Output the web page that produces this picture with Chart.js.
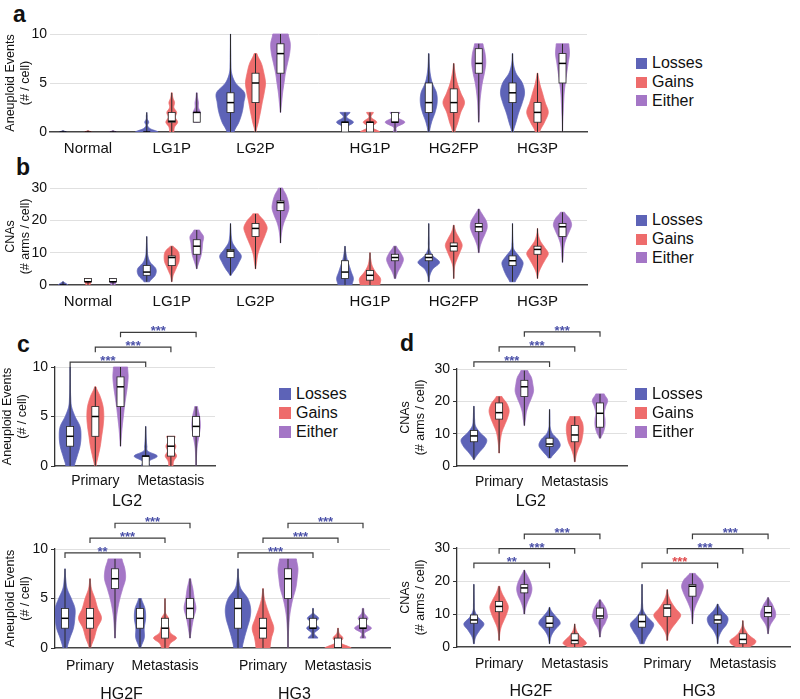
<!DOCTYPE html>
<html>
<head>
<meta charset="utf-8">
<script src="https://cdn.jsdelivr.net/npm/chart.js@4.4.1/dist/chart.umd.min.js"></script>
<style>
  body { margin: 0; background: #fff; width: 800px; height: 699px; position: relative; overflow: hidden;
         font-family: "Liberation Sans", Arial, Helvetica, sans-serif; }
  canvas { position: absolute; }
  .tag { position: absolute; font-weight: bold; font-size: 23px; line-height: 23px; color: #111; }
  .legend { position: absolute; font-size: 16px; color: #111; }
  .legend div { display: flex; align-items: center; height: 18.7px; white-space: nowrap; }
  .legend span { display: inline-block; margin-right: 5px; }
</style>
</head>
<body>
<div class="tag" style="left:13px;top:3px">a</div>
<div class="tag" style="left:16px;top:156px">b</div>
<div class="tag" style="left:17px;top:333px">c</div>
<div class="tag" style="left:400px;top:332px">d</div>

<canvas id="ca" width="600" height="160" style="left:0;top:0"></canvas>
<canvas id="cb" width="600" height="170" style="left:0;top:140px"></canvas>
<canvas id="cc1" width="240" height="200" style="left:0;top:310px"></canvas>
<canvas id="cc2" width="400" height="199" style="left:0;top:500px"></canvas>
<canvas id="cd1" width="244" height="200" style="left:396px;top:310px"></canvas>
<canvas id="cd2" width="404" height="199" style="left:396px;top:500px"></canvas>

<script>
// ---- data ----
const seriesNames = ['Losses', 'Gains', 'Either'];
const screenGroups = ['Normal', 'LG1P', 'LG2P', 'HG1P', 'HG2FP', 'HG3P'];
const stageGroups = ['Primary', 'Metastasis'];
const lgSupers = ['LG2'];
const hgSupers = ['HG2F', 'HG3'];

// box stats per violin: [min, q1, median, q3, max]
// shape: violin half-widths at evenly spaced values from min to max (1 = widest)

// a: aneuploid events per cell
const aLosses = [[0, 0, 0, 0, 0.15], [0, 0, 0, 0, 2], [0, 2, 3, 4, 10], [0, 0, 1, 1, 2], [0, 2, 3, 5, 8], [0, 3, 4, 5, 8]];
const aLossesShape = [[0.25, 0], [0.82, 0.25, 0.06, 0.14, 0.04, 0.03, 0], [0.25, 0.6, 0.83, 0.95, 1.0, 0.36, 0.08, 0.03, 0.02, 0.01, 0.01],
  [0.25, 0.12, 0.6, 0.12, 0.36], [0.05, 0.2, 0.45, 0.6, 0.55, 0.25, 0.1, 0.04, 0.02], [0.05, 0.25, 0.45, 0.7, 0.86, 0.7, 0.25, 0.06, 0.02]];
const aGains = [[0, 0, 0, 0, 0.15], [0, 1, 1.1, 2, 4], [0, 3, 5, 6, 8], [0, 0, 1, 1, 2], [0, 2, 3, 4.4, 7], [0, 1, 2, 3, 6]];
const aGainsShape = [[0.25, 0], [0.15, 0.2, 0.42, 0.25, 0.35, 0.15, 0.2, 0.08, 0.03], [0.03, 0.2, 0.35, 0.48, 0.62, 0.71, 0.6, 0.42, 0.1],
  [0.7, 0.12, 0.48, 0.08, 0.24], [0.08, 0.3, 0.5, 0.77, 0.5, 0.25, 0.1, 0.02], [0.15, 0.5, 0.77, 0.55, 0.35, 0.15, 0.03]];
const aEither = [[0, 0, 0, 0, 0.15], [1, 1, 2, 2, 4], [2, 6, 8, 9, 10], [0, 1, 1, 2, 2], [1, 6, 7, 8.5, 9], [0, 5, 7, 8, 9]];
const aEitherShape = [[0.25, 0], [0.2, 0.15, 0.25, 0.12, 0.12, 0.06, 0.03], [0.02, 0.08, 0.15, 0.25, 0.35, 0.5, 0.65, 0.7, 0.55],
  [0.1, 0.12, 0.7, 0.15, 0.36], [0.02, 0.05, 0.08, 0.15, 0.25, 0.4, 0.5, 0.45, 0.3], [0.01, 0.02, 0.05, 0.08, 0.12, 0.2, 0.3, 0.4, 0.5, 0.45]];

// b: CNAs (# arms / cell)
const bLosses = [[0, 0, 0, 0, 1], [1, 3, 4, 6, 15], [3, 8.5, 10.5, 11, 19], [0, 2, 4, 7.5, 12], [1, 7.5, 8.5, 9.5, 19], [1, 6, 7.5, 9, 19]];
const bLossesShape = [[0.35, 0.05], [0.2, 0.6, 0.65, 0.25, 0.08, 0.04, 0.02, 0.01], [0.05, 0.35, 0.6, 0.77, 0.45, 0.15, 0.06, 0.03, 0.01],
  [0.5, 0.6, 0.45, 0.3, 0.15, 0.06, 0.01], [0.03, 0.08, 0.3, 0.77, 0.3, 0.05, 0.03, 0.02, 0.01, 0.01], [0.2, 0.45, 0.65, 0.75, 0.45, 0.1, 0.04, 0.02, 0.01, 0.01]];
const bGains = [[0, 1, 1, 2, 2], [1, 6, 8.5, 9, 12], [5, 15, 17.5, 19, 22], [0, 1.5, 3, 4.5, 10], [2, 10.5, 12, 13, 18.5], [2, 9.5, 11, 12, 17.5]];
const bGainsShape = [[0.15, 0.2, 0.15], [0.02, 0.05, 0.1, 0.2, 0.3, 0.4, 0.5, 0.54, 0.54, 0.5, 0.35, 0.1], [0.02, 0.08, 0.15, 0.3, 0.5, 0.7, 0.83, 0.6, 0.2],
  [0.7, 0.75, 0.4, 0.15, 0.05, 0.01], [0.02, 0.03, 0.08, 0.25, 0.45, 0.6, 0.4, 0.15, 0.03], [0.02, 0.1, 0.3, 0.55, 0.77, 0.5, 0.2, 0.06, 0.01]];
const bEither = [[0, 1, 1, 2, 2], [5, 9.5, 12, 14, 17], [13, 23, 25.5, 26, 30], [2, 7.5, 8.5, 9.5, 12], [10, 16.5, 18, 19, 23.5], [7, 15, 18, 19, 22.5]];
const bEitherShape = [[0.15, 0.2, 0.15], [0.02, 0.15, 0.3, 0.38, 0.42, 0.48, 0.2], [0.02, 0.05, 0.12, 0.25, 0.45, 0.6, 0.55, 0.4, 0.15],
  [0.05, 0.2, 0.45, 0.6, 0.4, 0.1], [0.03, 0.1, 0.25, 0.45, 0.6, 0.55, 0.3, 0.05], [0.02, 0.05, 0.08, 0.15, 0.3, 0.5, 0.65, 0.5, 0.15]];

// c (top): LG2 aneuploid events, primary vs metastasis
const cTopLosses = [[0, 2, 3, 4, 10], [0, 0, 1, 1, 4]];
const cTopLossesShape = [[0.3, 0.5, 0.7, 0.77, 0.7, 0.35, 0.1, 0.04, 0.02, 0.01, 0.01], [0.3, 0.25, 0.82, 0.15, 0.08, 0.05, 0.03, 0.02, 0.01]];
const cTopGains = [[0, 3, 5, 6, 8], [0, 1, 2, 3, 3]];
const cTopGainsShape = [[0.05, 0.2, 0.35, 0.45, 0.55, 0.6, 0.55, 0.35, 0.05], [0.15, 0.2, 0.4, 0.25, 0.35, 0.2, 0.3]];
const cTopEither = [[2, 6, 8, 9, 10], [0, 3, 4, 5, 6]];
const cTopEitherShape = [[0.02, 0.06, 0.12, 0.2, 0.28, 0.38, 0.48, 0.54, 0.5], [0.01, 0.03, 0.08, 0.2, 0.3, 0.25, 0.1]];
const cTopSig = ['***', '***', '***'];

// c (bottom): HG2F and HG3 aneuploid events
const cBotLosses = [[0, 2, 3, 4, 8], [0, 2, 3, 4, 5], [0, 2, 4, 5, 8], [1, 2, 2, 3, 4]];
const cBotLossesShape = [[0.15, 0.35, 0.6, 0.7, 0.71, 0.45, 0.15, 0.05, 0.01], [0.05, 0.3, 0.3, 0.4, 0.35, 0.1],
  [0.3, 0.45, 0.65, 0.85, 0.9, 0.7, 0.2, 0.05, 0.01], [0.35, 0.1, 0.45, 0.1, 0.4, 0.05, 0.03]];
const cBotGains = [[0, 2, 3, 4, 7], [0, 1, 2, 3, 5], [0, 1, 2, 3, 6], [0, 0, 0, 1, 2]];
const cBotGainsShape = [[0.05, 0.3, 0.5, 0.82, 0.55, 0.35, 0.1, 0.02], [0.25, 0.4, 0.82, 0.4, 0.3, 0.2, 0.25, 0.05, 0.03, 0.02, 0.01],
  [0.5, 0.6, 0.77, 0.55, 0.3, 0.1, 0.02], [0.95, 0.2, 0.35, 0.08, 0.03]];
const cBotEither = [[1, 6, 7, 8, 9], [1, 3, 4, 5, 7], [0, 5, 7, 8, 9], [1, 2, 2, 3, 4]];
const cBotEitherShape = [[0.02, 0.05, 0.1, 0.2, 0.35, 0.55, 0.75, 0.7, 0.5], [0.02, 0.12, 0.25, 0.42, 0.3, 0.2, 0.05],
  [0.01, 0.02, 0.05, 0.1, 0.2, 0.35, 0.55, 0.65, 0.71, 0.6], [0.2, 0.1, 0.6, 0.15, 0.35, 0.1, 0.05]];
const cBotSig = ['**', '***', '***', '***', '***', '***'];

// d (top): LG2 CNAs
const dTopLosses = [[2, 7.5, 9.3, 11, 18.5], [2.5, 6, 6.8, 8.6, 17.5]];
const dTopLossesShape = [[0.03, 0.35, 0.75, 0.9, 0.45, 0.12, 0.05, 0.03, 0.01], [0.1, 0.45, 0.75, 0.6, 0.2, 0.05, 0.03, 0.02, 0.01]];
const dTopGains = [[4, 14.5, 16.5, 19.5, 21.5], [1.3, 7.5, 9.6, 12.5, 15.3]];
const dTopGainsShape = [[0.02, 0.04, 0.1, 0.2, 0.4, 0.6, 0.71, 0.55, 0.2], [0.03, 0.1, 0.25, 0.45, 0.55, 0.6, 0.55, 0.35]];
const dTopEither = [[12.5, 21.5, 24.5, 26.5, 29.5], [8.6, 12, 16.3, 19.5, 22.3]];
const dTopEitherShape = [[0.02, 0.08, 0.15, 0.3, 0.5, 0.65, 0.6, 0.5, 0.25], [0.05, 0.25, 0.35, 0.35, 0.3, 0.4, 0.54, 0.3]];
const dTopSig = ['***', '***', '***'];

// d (bottom): HG2F and HG3 CNAs
const dBotLosses = [[1, 7.2, 8.2, 9.7, 19], [1, 6, 7.2, 9.2, 12], [1, 6, 7.7, 9.7, 19], [1, 7.2, 8.2, 9.7, 13]];
const dBotLossesShape = [[0.03, 0.12, 0.4, 0.71, 0.3, 0.06, 0.03, 0.02, 0.01, 0.01], [0.02, 0.05, 0.1, 0.2, 0.35, 0.55, 0.75, 0.7, 0.5, 0.3, 0.12, 0.03],
  [0.15, 0.35, 0.65, 0.82, 0.4, 0.1, 0.04, 0.02, 0.01, 0.01], [0.02, 0.08, 0.3, 0.65, 0.71, 0.3, 0.03]];
const dBotGains = [[2, 10.7, 12.3, 13.8, 18.4], [0, 1, 2, 4, 7], [2, 9.2, 11.8, 12.8, 17.4], [0, 1, 2.3, 4, 8]];
const dBotGainsShape = [[0.02, 0.05, 0.15, 0.35, 0.55, 0.65, 0.45, 0.2, 0.05], [0.5, 0.82, 0.7, 0.45, 0.25, 0.12, 0.05, 0.01],
  [0.03, 0.1, 0.35, 0.7, 0.95, 0.6, 0.3, 0.1, 0.02], [0.5, 0.85, 0.9, 0.6, 0.35, 0.2, 0.08, 0.03, 0.01]];
const dBotEither = [[10, 16.4, 17.9, 18.9, 23.3], [3, 8.7, 9.4, 11.8, 14.3], [7, 15.4, 18.4, 18.9, 22.3], [4, 9.2, 10.4, 12.3, 15]];
const dBotEitherShape = [[0.03, 0.1, 0.25, 0.45, 0.54, 0.45, 0.25, 0.03], [0.02, 0.05, 0.1, 0.2, 0.35, 0.45, 0.54, 0.5, 0.45, 0.35, 0.2, 0.05],
  [0.02, 0.05, 0.1, 0.25, 0.45, 0.65, 0.77, 0.6, 0.2], [0.02, 0.05, 0.1, 0.2, 0.35, 0.5, 0.54, 0.5, 0.4, 0.3, 0.15, 0.03]];
const dBotSig = ['**', '***', '***', '***', '***', '***'];

// ---- drawing ----
const seriesColors = ['#5d63b7', '#ee6c6c', '#a476c6'];
const fontFamily = '"Liberation Sans", Arial, Helvetica, sans-serif';
Chart.defaults.font.family = fontFamily;
Chart.defaults.color = '#111';

const violinSets = {};

function catmull(w, i, t) {
  const p0 = w[Math.max(i - 1, 0)], p1 = w[i], p2 = w[i + 1], p3 = w[Math.min(i + 2, w.length - 1)];
  const v = 0.5 * (2 * p1 + (-p0 + p2) * t + (2 * p0 - 5 * p1 + 4 * p2 - p3) * t * t + (-p0 + 3 * p1 - 3 * p2 + p3) * t * t * t);
  return Math.max(v, 0);
}

function drawViolin(ctx, xs, ys, v, halfWidth) {
  const [lo, q1, med, q3, hi] = v.box;
  const w = v.shape, n = w.length;
  const prof = [];
  for (let i = 0; i < n - 1; i++) {
    for (let k = 0; k < 10; k++) prof.push([i + k / 10, catmull(w, i, k / 10)]);
  }
  prof.push([n - 1, w[n - 1]]);
  const valAt = s => lo + (hi - lo) * s / (n - 1);

  ctx.beginPath();
  prof.forEach(([s, ww], j) => {
    const px = xs.getPixelForValue(v.x - ww * halfWidth), py = ys.getPixelForValue(valAt(s));
    if (j) ctx.lineTo(px, py); else ctx.moveTo(px, py);
  });
  for (let j = prof.length - 1; j >= 0; j--) {
    const [s, ww] = prof[j];
    ctx.lineTo(xs.getPixelForValue(v.x + ww * halfWidth), ys.getPixelForValue(valAt(s)));
  }
  ctx.closePath();
  ctx.fillStyle = v.color;
  ctx.fill();
  ctx.strokeStyle = v.color;
  ctx.lineWidth = 0.8;
  ctx.stroke();

  // whisker through the violin
  const cx = xs.getPixelForValue(v.x);
  ctx.strokeStyle = '#2b2b2b';
  ctx.lineWidth = 1;
  ctx.beginPath();
  ctx.moveTo(cx, ys.getPixelForValue(lo));
  ctx.lineTo(cx, ys.getPixelForValue(hi));
  ctx.stroke();

  // box + median
  const top = ys.getPixelForValue(q3), bot = ys.getPixelForValue(q1);
  if (bot - top > 0.5) {
    ctx.fillStyle = '#fff';
    ctx.fillRect(cx - 3.5, top, 7, bot - top);
    ctx.strokeStyle = '#222';
    ctx.lineWidth = 0.8;
    ctx.strokeRect(cx - 3.5, top, 7, bot - top);
  }
  const my = ys.getPixelForValue(med);
  ctx.strokeStyle = '#000';
  ctx.lineWidth = 1.5;
  ctx.beginPath();
  ctx.moveTo(cx - 3.5, my);
  ctx.lineTo(cx + 3.5, my);
  ctx.stroke();
}

const violinPlugin = {
  id: 'violins',
  afterDatasetsDraw(chart) {
    const set = violinSets[chart.canvas.id];
    if (!set) return;
    const {ctx, chartArea: ca, scales: {x, y}} = chart;
    ctx.save();
    ctx.beginPath();
    ctx.rect(ca.left, ca.top - 1, ca.right - ca.left, ca.bottom - ca.top + 1);
    ctx.clip();
    set.items.forEach(v => drawViolin(ctx, x, y, v, set.halfWidth));
    ctx.restore();

    // significance brackets
    ctx.save();
    set.brackets.forEach(b => {
      const x1 = x.getPixelForValue(b.from), x2 = x.getPixelForValue(b.to), yp = y.getPixelForValue(b.level);
      ctx.strokeStyle = '#3c3c3c';
      ctx.lineWidth = 1.2;
      ctx.beginPath();
      ctx.moveTo(x1, yp + 5);
      ctx.lineTo(x1, yp);
      ctx.lineTo(x2, yp);
      ctx.lineTo(x2, yp + 5);
      ctx.stroke();
      ctx.fillStyle = b.up ? '#e0484a' : '#4a50a8';
      ctx.font = 'bold 13px ' + fontFamily;
      ctx.textAlign = 'center';
      ctx.textBaseline = 'alphabetic';
      ctx.fillText(b.label, (x1 + x2) / 2, yp + 3);
    });
    ctx.restore();
  }
};
Chart.register(violinPlugin);

function makePanel(p) {
  const pos = (g, s) => g * p.step + (p.gapAt !== undefined && g >= p.gapAt ? p.gap : 0) + s;
  const groups = p.supers ? p.supers.flatMap(() => stageGroups) : p.groups;
  const centers = groups.map((_, g) => pos(g, 1));
  // group title sits a little toward the Primary side, as in the figure
  const superCenters = p.supers ? p.supers.map((_, k) => pos(2 * k, 1) + 0.42 * (pos(2 * k + 1, 1) - pos(2 * k, 1))) : [];

  const items = [];
  p.box.forEach((list, s) => list.forEach((b, g) => {
    items.push({x: pos(g, s), box: b, shape: p.shape[s][g], color: seriesColors[s]});
  }));
  const brackets = [];
  if (p.sig) {
    p.supers.forEach((_, k) => {
      seriesNames.forEach((_, s) => {
        brackets.push({
          from: pos(2 * k, s), to: pos(2 * k + 1, s),
          level: p.bracketBase + s * p.bracketStep,
          label: p.sig[k * 3 + s],
          up: p.box[s][2 * k + 1][2] > p.box[s][2 * k][2]
        });
      });
    });
  }
  violinSets[p.id] = {items, brackets, halfWidth: 0.56};

  const scales = {
    x: {
      type: 'linear', min: p.xMin, max: p.xMax, weight: 0,
      grid: {display: false, drawTicks: false},
      border: {display: true, color: '#444', width: 1.5},
      afterBuildTicks: s => { s.ticks = centers.map(v => ({value: v})); },
      ticks: {callback: (v, i) => groups[i], font: {size: p.tickFont}, color: '#111', padding: p.xPad, maxRotation: 0, autoSkip: false},
      afterFit: s => { s.height = p.xH; }
    },
    y: {
      min: 0, max: p.yMax,
      grid: {
        color: c => (c.tick && c.tick.value === 0 ? 'rgba(0,0,0,0)' : '#e0e0e0'),
        drawTicks: p.axisLine, tickLength: 4, tickColor: '#333', tickWidth: 1
      },
      border: {display: p.axisLine, color: '#333', width: 1.3},
      ticks: {stepSize: p.yStep, font: {size: 14}, color: '#111', padding: 3},
      title: {display: true, text: p.yTitle, font: {size: 12.5, lineHeight: 1.2}, color: '#111', padding: {top: p.titlePad, bottom: 0}},
      afterFit: s => { s.width = p.yW; }
    }
  };
  if (p.supers) {
    scales.x2 = {
      type: 'linear', position: 'bottom', min: p.xMin, max: p.xMax, weight: 1,
      grid: {display: false, drawTicks: false}, border: {display: false},
      afterBuildTicks: s => { s.ticks = superCenters.map(v => ({value: v})); },
      ticks: {callback: (v, i) => p.supers[i], font: {size: 16}, color: '#111', padding: p.x2Pad, maxRotation: 0, autoSkip: false},
      afterFit: s => { s.height = p.x2H; }
    };
  }

  new Chart(document.getElementById(p.id), {
    type: 'scatter',
    data: {
      datasets: seriesNames.map((name, s) => ({
        label: name,
        data: p.box[s].map((b, g) => ({x: pos(g, s), y: b[2]})),
        pointRadius: 0,
        backgroundColor: seriesColors[s]
      }))
    },
    options: {
      responsive: false,
      animation: false,
      layout: {padding: p.pad},
      plugins: {legend: {display: false}, tooltip: {enabled: false}},
      scales
    }
  });
}

function addLegend(left, top, size) {
  const el = document.createElement('div');
  el.className = 'legend';
  el.style.left = left + 'px';
  el.style.top = top + 'px';
  seriesNames.forEach((name, i) => {
    const row = document.createElement('div');
    const sw = document.createElement('span');
    sw.style.width = size + 'px';
    sw.style.height = size + 'px';
    sw.style.background = seriesColors[i];
    row.appendChild(sw);
    row.appendChild(document.createTextNode(name));
    el.appendChild(row);
  });
  document.body.appendChild(el);
}

makePanel({
  id: 'ca', groups: screenGroups, box: [aLosses, aGains, aEither], shape: [aLossesShape, aGainsShape, aEitherShape],
  step: 3.35, gapAt: 3, gap: 1.23, xMin: -0.52, xMax: 20.96,
  yMax: 10, yStep: 5, yTitle: ['Aneuploid Events', '(# / cell)'], axisLine: false,
  pad: {top: 34, right: 13, bottom: 0, left: 0}, yW: 50, xH: 28, xPad: 8, tickFont: 15, titlePad: 3.5
});
makePanel({
  id: 'cb', groups: screenGroups, box: [bLosses, bGains, bEither], shape: [bLossesShape, bGainsShape, bEitherShape],
  step: 3.35, gapAt: 3, gap: 1.23, xMin: -0.52, xMax: 20.96,
  yMax: 30, yStep: 10, yTitle: ['CNAs', '(# arms / cell)'], axisLine: false,
  pad: {top: 48, right: 13, bottom: 0, left: 0}, yW: 50, xH: 25, xPad: 8, tickFont: 15, titlePad: 3.5
});
makePanel({
  id: 'cc1', supers: lgSupers, box: [cTopLosses, cTopGains, cTopEither], shape: [cTopLossesShape, cTopGainsShape, cTopEitherShape],
  sig: cTopSig, bracketBase: 10.5, bracketStep: 1.5,
  step: 3, xMin: -0.6, xMax: 5.75,
  yMax: 10, yStep: 5, yTitle: ['Aneuploid Events', '(# / cell)'], axisLine: true,
  pad: {top: 57, right: 25, bottom: 0, left: 0}, yW: 55, xH: 24, x2H: 20, xPad: 6.6, x2Pad: 1.5, tickFont: 14, titlePad: 0
});
makePanel({
  id: 'cc2', supers: hgSupers, box: [cBotLosses, cBotGains, cBotEither], shape: [cBotLossesShape, cBotGainsShape, cBotEitherShape],
  sig: cBotSig, bracketBase: 9.6, bracketStep: 1.5,
  step: 3, gapAt: 2, gap: 0.92, xMin: -0.4, xMax: 13,
  yMax: 10, yStep: 5, yTitle: ['Aneuploid Events', '(# / cell)'], axisLine: true,
  pad: {top: 49, right: 10, bottom: 0, left: 0}, yW: 55, xH: 27, x2H: 24, xPad: 10, x2Pad: 10, tickFont: 14, titlePad: 3.5
});
makePanel({
  id: 'cd1', supers: lgSupers, box: [dTopLosses, dTopGains, dTopEither], shape: [dTopLossesShape, dTopGainsShape, dTopEitherShape],
  sig: dTopSig, bracketBase: 32.2, bracketStep: 4.65,
  step: 3, xMin: -0.67, xMax: 6.07,
  yMax: 30, yStep: 10, yTitle: ['CNAs', '(# arms / cell)'], axisLine: true,
  pad: {top: 59, right: 13, bottom: 0, left: 0}, yW: 61, xH: 24, x2H: 20, xPad: 7.3, x2Pad: 2, tickFont: 14, titlePad: 2.5
});
makePanel({
  id: 'cd2', supers: hgSupers, box: [dBotLosses, dBotGains, dBotEither], shape: [dBotLossesShape, dBotGainsShape, dBotEitherShape],
  sig: dBotSig, bracketBase: 25.4, bracketStep: 4.4,
  step: 3, gapAt: 2, gap: 0.67, xMin: -0.67, xMax: 12.54,
  yMax: 30, yStep: 10, yTitle: ['CNAs', '(# arms / cell)'], axisLine: true,
  pad: {top: 48, right: 10, bottom: 0, left: 0}, yW: 61, xH: 27, x2H: 25, xPad: 9, x2Pad: 8, tickFont: 14, titlePad: 2.5
});

addLegend(636, 54, 11);
addLegend(636, 211, 11);
addLegend(279, 385, 12);
addLegend(635, 385, 12);
</script>
</body>
</html>
